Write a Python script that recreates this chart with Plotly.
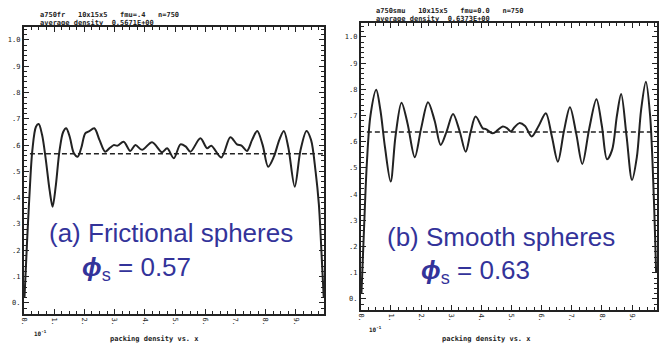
import plotly.graph_objects as go

W, H = 661, 347

# ---- data ----
fr_x = [0.02, 0.10, 0.18, 0.28, 0.40, 0.49, 0.60, 0.72, 0.85, 0.95, 1.05, 1.18, 1.30, 1.40, 1.52,
        1.65, 1.78, 1.90, 2.03, 2.15, 2.33, 2.50, 2.69, 2.85, 2.97, 3.10, 3.30, 3.52, 3.69, 3.91,
        4.24, 4.57, 4.74, 4.96, 5.18, 5.35, 5.51, 5.84, 6.06, 6.20, 6.53, 6.83, 7.05, 7.20, 7.38,
        7.55, 7.72, 7.90, 8.08, 8.27, 8.45, 8.60, 8.75, 8.96, 9.15, 9.35, 9.50, 9.65, 9.76, 9.85, 9.92]
fr_y = [0.02, 0.22, 0.40, 0.58, 0.67, 0.68, 0.64, 0.55, 0.43, 0.366, 0.44, 0.58, 0.65, 0.664, 0.63,
        0.57, 0.556, 0.59, 0.645, 0.652, 0.664, 0.62, 0.575, 0.59, 0.60, 0.598, 0.613, 0.578, 0.60, 0.582,
        0.611, 0.573, 0.588, 0.55, 0.603, 0.595, 0.575, 0.626, 0.588, 0.598, 0.553, 0.63, 0.603, 0.598, 0.578,
        0.62, 0.654, 0.60, 0.518, 0.556, 0.62, 0.654, 0.59, 0.442, 0.58, 0.654, 0.62, 0.50, 0.373, 0.18, 0.02]

sm_x = [0.02, 0.10, 0.20, 0.32, 0.51, 0.65, 0.80, 0.99, 1.15, 1.35, 1.55, 1.79, 2.00, 2.23, 2.45,
        2.65, 2.85, 3.06, 3.28, 3.48, 3.65, 3.81, 4.05, 4.15, 4.38, 4.55, 4.71, 4.85, 4.98, 5.10,
        5.26, 5.45, 5.67, 5.90, 6.14, 6.34, 6.54, 6.74, 6.94, 7.15, 7.35, 7.58, 7.82, 8.00, 8.17,
        8.34, 8.50, 8.64, 8.82, 9.00, 9.16, 9.30, 9.46, 9.60, 9.72, 9.80]
sm_y = [0.02, 0.25, 0.518, 0.70, 0.798, 0.72, 0.58, 0.448, 0.62, 0.749, 0.67, 0.541, 0.65, 0.751, 0.68,
        0.588, 0.64, 0.706, 0.64, 0.562, 0.64, 0.696, 0.651, 0.648, 0.632, 0.645, 0.658, 0.652, 0.639, 0.655,
        0.671, 0.660, 0.62, 0.66, 0.709, 0.62, 0.524, 0.64, 0.732, 0.63, 0.515, 0.65, 0.762, 0.66, 0.533,
        0.569, 0.70, 0.782, 0.62, 0.454, 0.541, 0.72, 0.829, 0.70, 0.40, 0.10]

avg_fr = 0.5671
avg_sm = 0.6373

y_ticks = [0.0, 0.1, 0.2, 0.3, 0.4, 0.5, 0.6, 0.7, 0.8, 0.9, 1.0]
y_labels = ["0.", ".1", ".2", ".3", ".4", ".5", ".6", ".7", ".8", ".9", "1.0"]
x_ticks = [0, 1, 2, 3, 4, 5, 6, 7, 8, 9]
x_labels = ["0.", "1.", "2.", "3.", "4.", "5.", "6.", "7.", "8.", "9."]

header_fr = ["a750fr   10x15x5   fmu=.4   n=750", "average density  0.5671E+00"]
header_sm = ["a750smu   10x15x5   fmu=0.0   n=750", "average density  0.6373E+00"]
label_fr = ["(a) Frictional spheres", "0.57"]
label_sm = ["(b) Smooth spheres", "0.63"]
xtitle = "packing density vs. x"

blue = "#33339a"
ink = "#222222"

fig = go.Figure()

def panel(xs, ys, avg, xa, ya, xmax):
    fig.add_trace(go.Scatter(x=xs, y=ys, mode="lines", xaxis=xa, yaxis=ya,
                             line=dict(color=ink, width=2, shape="spline", smoothing=0.9),
                             showlegend=False, hoverinfo="skip"))
    fig.add_trace(go.Scatter(x=[0.2, xmax], y=[avg, avg], mode="lines", xaxis=xa, yaxis=ya,
                             line=dict(color=ink, width=1.6, dash="5px,3px"),
                             showlegend=False, hoverinfo="skip"))

panel(fr_x, fr_y, avg_fr, "x", "y", 9.93)
panel(sm_x, sm_y, avg_sm, "x2", "y2", 9.83)

def xaxis(dom, rng, anchor):
    return dict(domain=dom, range=rng, anchor=anchor, tickmode="array", tickvals=x_ticks,
                ticktext=x_labels, tickangle=90, ticks="inside", ticklen=5, tickwidth=1,
                tickcolor=ink, showline=True, linecolor=ink, linewidth=2, mirror="allticks",
                showgrid=False, zeroline=False,
                tickfont=dict(family="DejaVu Sans Mono", size=7, color=ink),
                minor=dict(dtick=0.25, ticks="inside", ticklen=3, tickcolor=ink, showgrid=False))

def yaxis(dom, rng, anchor):
    return dict(domain=dom, range=rng, anchor=anchor, tickmode="array", tickvals=y_ticks,
                ticktext=y_labels, ticks="inside", ticklen=5, tickwidth=1, tickcolor=ink,
                showline=True, linecolor=ink, linewidth=2, mirror="allticks",
                showgrid=False, zeroline=False,
                tickfont=dict(family="DejaVu Sans Mono", size=7, color=ink),
                minor=dict(dtick=0.02, ticks="inside", ticklen=3, tickcolor=ink, showgrid=False))

fig.update_layout(
    width=W, height=H, margin=dict(l=0, r=0, t=0, b=0),
    paper_bgcolor="white", plot_bgcolor="white",
    xaxis=xaxis([20 / W, 322 / W], [0, 9.93], "y"),
    yaxis=yaxis([1 - 314 / H, 1 - 27 / H], [-0.042, 1.049], "x"),
    xaxis2=xaxis([359 / W, 657 / W], [0, 9.83], "y2"),
    yaxis2=yaxis([1 - 310 / H, 1 - 23 / H], [-0.042, 1.053], "x2"),
)

def txt(x, y, s, size, color, family, xanchor="left", weight="normal"):
    fig.add_annotation(x=x / W, y=1 - y / H, xref="paper", yref="paper", text=s,
                       showarrow=False, xanchor=xanchor, yanchor="middle",
                       font=dict(size=size, color=color, family=family, weight=weight))

mono = "DejaVu Sans Mono"
txt(34, 15, header_fr[0], 7, ink, mono, weight="bold")
txt(34, 23, header_fr[1], 7, ink, mono, weight="bold")
txt(372, 11, header_sm[0], 7, ink, mono, weight="bold")
txt(372, 19, header_sm[1], 7, ink, mono, weight="bold")

txt(151, 339, xtitle, 7, ink, mono, xanchor="center", weight="bold")
txt(485, 339, xtitle, 7, ink, mono, xanchor="center", weight="bold")
txt(37, 333, "10<sup>-1</sup>", 6, ink, mono, xanchor="center", weight="bold")
txt(374, 329, "10<sup>-1</sup>", 6, ink, mono, xanchor="center", weight="bold")

sans = "Liberation Sans, Arial, sans-serif"
txt(43, 233, label_fr[0], 26, blue, sans)
txt(76, 268, f"<b><i>ϕ</i></b><sub>s</sub> = {label_fr[1]}", 26, blue, sans)
txt(383, 237, label_sm[0], 26, blue, sans)
txt(418, 271, f"<b><i>ϕ</i></b><sub>s</sub> = {label_sm[1]}", 26, blue, sans)

fig.write_html("out.html")
